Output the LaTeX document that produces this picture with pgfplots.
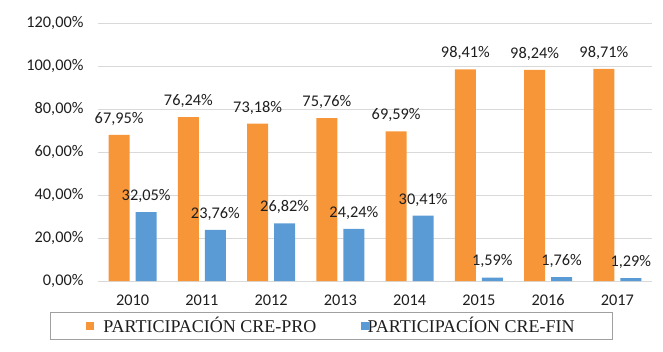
\documentclass[border=0pt]{standalone}
\usepackage{pgfplots}
\pgfplotsset{compat=1.18}
\usepackage{fontspec}
\setmainfont{Carlito}
\newfontfamily\legendfont{Liberation Serif}
\definecolor{corange}{RGB}{247,150,57}
\definecolor{cblue}{RGB}{91,155,213}
\definecolor{ctext}{RGB}{30,30,30}
\definecolor{cgrid}{RGB}{217,217,217}
\definecolor{cleg}{RGB}{160,160,160}
\begin{document}
\begin{tikzpicture}[x=1pt,y=1pt]
\useasboundingbox (-98,-70) rectangle (565,281);
\begin{axis}[
  at={(0,0)}, anchor=south west,
  scale only axis, width=554pt, height=258pt,
  xmin=-0.5, xmax=7.5, ymin=0, ymax=120,
  enlargelimits=false,
  ybar=6pt, bar width=21pt,
  xtick={0,...,7},
  xticklabels={2010,2011,2012,2013,2014,2015,2016,2017},
  ytick={0,20,...,120},
  ymajorgrids, grid style={draw=cgrid, line width=0.8pt},
  axis line style={draw=none},
  major tick length=0pt,
  tick label style={font=\fontsize{16.3}{19}\selectfont, text=ctext},
  /pgf/number format/assume math mode=true,
  yticklabel={\pgfmathprintnumber[fixed,fixed zerofill,precision=2,use comma,assume math mode=true]{\tick}\%},
  yticklabel style={font=\fontsize{16.3}{19}\selectfont, xshift=-11pt},
  xticklabel style={font=\fontsize{16.3}{19}\selectfont, yshift=-10pt},
  nodes near coords={\pgfmathprintnumber[fixed,fixed zerofill,precision=2,use comma,assume math mode=true]{\pgfplotspointmeta}\%},
  every node near coord/.append style={font=\fontsize{16.3}{19}\selectfont, text=ctext, yshift=6pt},
  legend style={at={(233.5/554,-44.5/258)}, anchor=center, legend columns=2,
    draw=cleg, line width=0.8pt,
    font=\legendfont\fontsize{18}{21}\selectfont, text=ctext,
    inner xsep=36pt, inner ysep=3pt,
    /tikz/column 1/.style={column sep=7pt},
    /tikz/column 2/.style={column sep=42pt},
    /tikz/column 3/.style={column sep=-3pt}},
  legend image code/.code={\fill[#1] (0pt,-4pt) rectangle (8pt,4pt);},
]
\addplot[fill=corange, draw=none] coordinates {
(0,67.95) (1,76.24) (2,73.18) (3,75.76) (4,69.59) (5,98.41) (6,98.24) (7,98.71)};
\addlegendentry{PARTICIPACIÓN CRE-PRO}
\addplot[fill=cblue, draw=none] coordinates {
(0,32.05) (1,23.76) (2,26.82) (3,24.24) (4,30.41) (5,1.59) (6,1.76) (7,1.29)};
\addlegendentry{PARTICIPACÍON CRE-FIN}
\end{axis}
\end{tikzpicture}
\end{document}
